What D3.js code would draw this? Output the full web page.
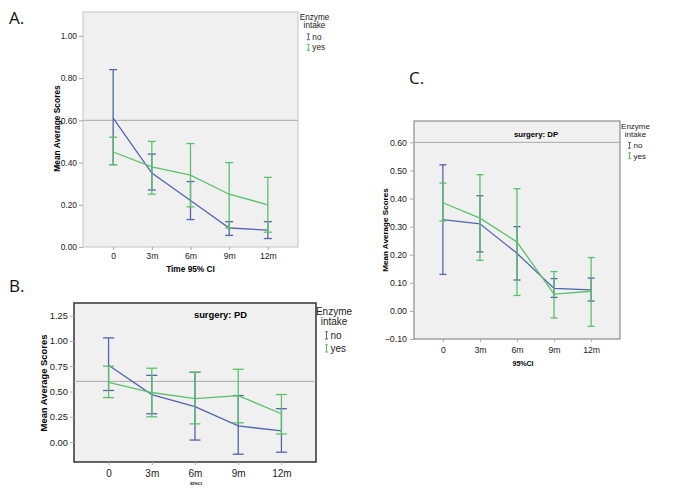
<!DOCTYPE html>
<html>
<head>
<meta charset="utf-8">
<script src="https://cdn.jsdelivr.net/npm/d3@7"></script>
<style>
  body { margin: 0; background: #fff; }
  svg { display: block; }
</style>
</head>
<body>
<script>
'use strict'

// time points on the x axis
var times = ['0', '3m', '6m', '9m', '12m']
var groups = ['no', 'yes']

// A. all patients
var aNoMean = [0.61, 0.35, 0.22, 0.09, 0.08]
var aNoLow  = [0.39, 0.27, 0.13, 0.055, 0.04]
var aNoHigh = [0.84, 0.44, 0.31, 0.12, 0.12]
var aYesMean = [0.45, 0.38, 0.34, 0.25, 0.20]
var aYesLow  = [0.39, 0.25, 0.19, 0.09, 0.07]
var aYesHigh = [0.52, 0.50, 0.49, 0.40, 0.33]
var aTicks = [0, 0.2, 0.4, 0.6, 0.8, 1.0]

// B. surgery: PD
var bNoMean = [0.76, 0.47, 0.35, 0.16, 0.11]
var bNoLow  = [0.51, 0.28, 0.02, -0.12, -0.10]
var bNoHigh = [1.03, 0.66, 0.69, 0.46, 0.33]
var bYesMean = [0.59, 0.49, 0.43, 0.46, 0.28]
var bYesLow  = [0.44, 0.25, 0.18, 0.19, 0.08]
var bYesHigh = [0.75, 0.73, 0.69, 0.72, 0.47]
var bTicks = [0, 0.25, 0.5, 0.75, 1.0, 1.25]

// C. surgery: DP
var cNoMean = [0.325, 0.31, 0.205, 0.08, 0.075]
var cNoLow  = [0.13, 0.21, 0.11, 0.048, 0.035]
var cNoHigh = [0.52, 0.41, 0.30, 0.115, 0.117]
var cYesMean = [0.385, 0.33, 0.245, 0.06, 0.07]
var cYesLow  = [0.32, 0.18, 0.055, -0.025, -0.055]
var cYesHigh = [0.455, 0.485, 0.435, 0.14, 0.19]
var cTicks = [-0.1, 0, 0.1, 0.2, 0.3, 0.4, 0.5, 0.6]

var refValue = 0.6
var colors = { no: '#5264ad', yes: '#5cc06c' }
var font = '"Liberation Sans", Arial, sans-serif'

var svg = d3.select('body').append('svg').attr('width', 700).attr('height', 500)

function series(mean, low, high){
  return times.map(function(t, i){ return { t: t, m: mean[i], lo: low[i], hi: high[i] } })
}

function panel(o){
  var g = svg.append('g')
    , x = d3.scalePoint().domain(times).range([o.left, o.right]).padding(o.pad)
    , y = d3.scaleLinear().domain(o.ydom).range([o.bottom, o.top])

  g.append('rect')
    .attr('x', o.left).attr('y', o.top)
    .attr('width', o.right - o.left).attr('height', o.bottom - o.top)
    .attr('fill', '#f0f0f0').attr('stroke', o.border).attr('stroke-width', o.borderW)

  // reference line
  g.append('line')
    .attr('x1', o.left).attr('x2', o.right)
    .attr('y1', y(refValue)).attr('y2', y(refValue))
    .attr('stroke', '#a9a9a9').attr('stroke-width', 1)

  var ya = g.append('g').attr('transform', 'translate(' + o.left + ',0)')
    .call(d3.axisLeft(y).tickValues(o.ticks).tickFormat(d3.format('.2f')).tickSize(4).tickPadding(o.ypad))
  ya.select('.domain').remove()
  ya.selectAll('line').attr('stroke', '#aaa')
  ya.selectAll('text').attr('font-family', font).attr('font-size', o.fs).attr('fill', '#222')

  var xa = g.append('g').attr('transform', 'translate(0,' + o.bottom + ')')
    .call(d3.axisBottom(x).tickSize(3).tickPadding(o.xpad))
  xa.select('.domain').remove()
  xa.selectAll('line').attr('stroke', '#aaa')
  xa.selectAll('text').attr('font-family', font).attr('font-size', o.xfs).attr('fill', '#222')

  o.data.forEach(function(s){
    var c = colors[s.group], d = s.values, cw = o.cap
    var eb = g.selectAll(null).data(d).enter().append('g').attr('stroke', c).attr('stroke-width', 1.3)
    eb.append('line')
      .attr('x1', function(d){ return x(d.t) }).attr('x2', function(d){ return x(d.t) })
      .attr('y1', function(d){ return y(d.lo) }).attr('y2', function(d){ return y(d.hi) })
    eb.append('line')
      .attr('x1', function(d){ return x(d.t) - cw }).attr('x2', function(d){ return x(d.t) + cw })
      .attr('y1', function(d){ return y(d.lo) }).attr('y2', function(d){ return y(d.lo) })
    eb.append('line')
      .attr('x1', function(d){ return x(d.t) - cw }).attr('x2', function(d){ return x(d.t) + cw })
      .attr('y1', function(d){ return y(d.hi) }).attr('y2', function(d){ return y(d.hi) })
    g.append('path').datum(d)
      .attr('fill', 'none').attr('stroke', c).attr('stroke-width', 1.3)
      .attr('d', d3.line().x(function(d){ return x(d.t) }).y(function(d){ return y(d.m) }))
  })

  if (o.title) g.append('text').text(o.title)
    .attr('x', o.titleX).attr('y', o.titleY).attr('text-anchor', 'middle')
    .attr('font-family', font).attr('font-weight', 'bold').attr('font-size', o.titleFs)

  g.append('text').text('Mean Average Scores')
    .attr('transform', 'translate(' + o.ylabX + ',' + o.ylabY + ') rotate(-90)')
    .attr('text-anchor', 'middle').attr('font-family', font).attr('font-weight', 'bold')
    .attr('font-size', o.ylabFs)

  g.append('text').text(o.xTitle)
    .attr('x', o.xTitleX).attr('y', o.xTitleY).attr('text-anchor', 'middle')
    .attr('font-family', font).attr('font-weight', 'bold').attr('font-size', o.xTitleFs)

  // legend
  var L = o.legend, f = L.fs
  g.append('text').text('Enzyme').attr('x', L.x).attr('y', L.y)
    .attr('text-anchor', 'middle').attr('font-family', font).attr('font-size', f).attr('fill', '#222')
  g.append('text').text('intake').attr('x', L.x).attr('y', L.y + f * 0.95)
    .attr('text-anchor', 'middle').attr('font-family', font).attr('font-size', f).attr('fill', '#222')
  groups.forEach(function(k, i){
    var ly = L.y + f * (2.4 + 1.3 * i), sx = L.x - f * 0.75, sh = f * 0.72
    g.append('path')
      .attr('d', 'M' + (sx - 1.5) + ',' + (ly - sh) + 'h3M' + sx + ',' + (ly - sh) + 'v' + sh + 'M' + (sx - 1.5) + ',' + ly + 'h3')
      .attr('stroke', colors[k]).attr('stroke-width', 1).attr('fill', 'none')
    g.append('text').text(k).attr('x', sx + 4).attr('y', ly)
      .attr('font-family', font).attr('font-size', f).attr('fill', '#222')
  })

  g.append('text').text(o.label).attr('x', o.labelX).attr('y', o.labelY)
    .attr('font-family', '"Open Sans", sans-serif').attr('font-size', 17).attr('fill', '#111')
}

panel({
  label: 'A.', labelX: 9, labelY: 24,
  left: 83, right: 298, top: 12, bottom: 247, pad: 0.78,
  ydom: [0, 1.113], ticks: aTicks, fs: 8.4, xfs: 8.7, ypad: 2, xpad: 3,
  border: '#c4c4c4', borderW: 1, cap: 4,
  ylabX: 60, ylabY: 128.5, ylabFs: 8.4,
  xTitle: 'Time 95% CI', xTitleX: 190.5, xTitleY: 272, xTitleFs: 8.3,
  legend: { x: 314.5, y: 20, fs: 8.2 },
  data: [
    { group: 'no', values: series(aNoMean, aNoLow, aNoHigh) },
    { group: 'yes', values: series(aYesMean, aYesLow, aYesHigh) }
  ]
})

panel({
  label: 'B.', labelX: 9, labelY: 292,
  left: 74, right: 316, top: 303, bottom: 462, pad: 0.8,
  ydom: [-0.197, 1.375], ticks: bTicks, fs: 9.4, xfs: 10, ypad: 2, xpad: 5,
  border: '#333', borderW: 1.5, cap: 5.5,
  ylabX: 47, ylabY: 383, ylabFs: 9.4,
  title: 'surgery: PD', titleX: 220.5, titleY: 318, titleFs: 9.4,
  xTitle: '95%CI', xTitleX: 196, xTitleY: 485, xTitleFs: 4,
  legend: { x: 334, y: 315, fs: 10 },
  data: [
    { group: 'no', values: series(bNoMean, bNoLow, bNoHigh) },
    { group: 'yes', values: series(bYesMean, bYesLow, bYesHigh) }
  ]
})

panel({
  label: 'C.', labelX: 409, labelY: 84,
  left: 414, right: 620, top: 121, bottom: 339, pad: 0.78,
  ydom: [-0.1, 0.676], ticks: cTicks, fs: 8.8, xfs: 8.7, ypad: 3, xpad: 5,
  border: '#777', borderW: 1, cap: 3.5,
  ylabX: 388, ylabY: 230, ylabFs: 8.1,
  title: 'surgery: DP', titleX: 536, titleY: 137, titleFs: 7.8,
  xTitle: '95%CI', xTitleX: 523, xTitleY: 366, xTitleFs: 7,
  legend: { x: 635.5, y: 129, fs: 8 },
  data: [
    { group: 'no', values: series(cNoMean, cNoLow, cNoHigh) },
    { group: 'yes', values: series(cYesMean, cYesLow, cYesHigh) }
  ]
})
</script>
</body>
</html>
